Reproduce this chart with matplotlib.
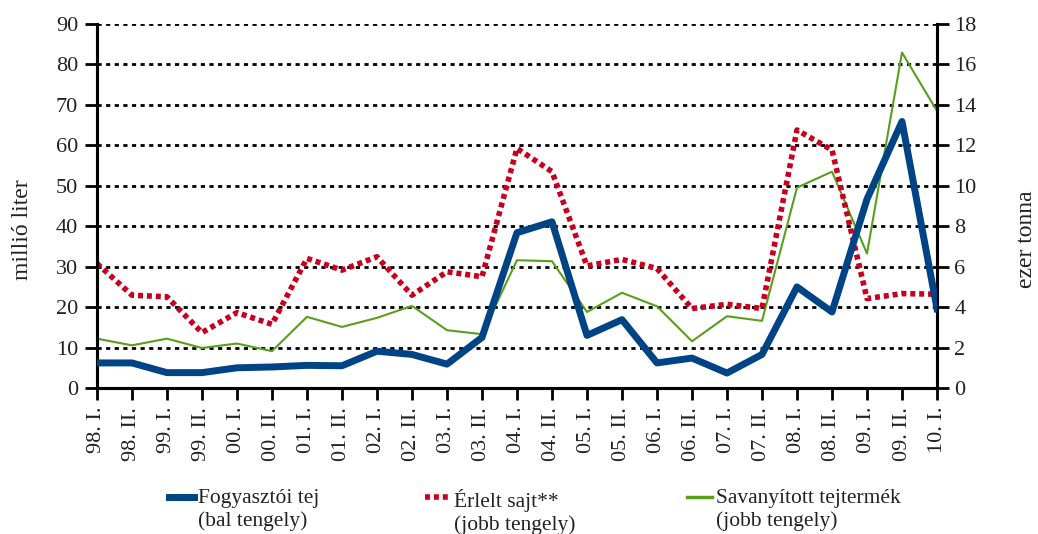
import matplotlib.pyplot as plt
from matplotlib.lines import Line2D

periods = ["98. I.", "98. II.", "99. I.", "99. II.", "00. I.", "00. II.", "01. I.", "01. II.",
           "02. I.", "02. II.", "03. I.", "03. II.", "04. I.", "04. II.", "05. I.", "05. II.",
           "06. I.", "06. II.", "07. I.", "07. II.", "08. I.", "08. II.", "09. I.", "09. II.", "10. I."]

# left axis (millió liter)
milk = [6.2, 6.2, 3.8, 3.8, 5.0, 5.2, 5.6, 5.5, 9.1, 8.3, 5.9, 12.5,
        38.4, 41.1, 13.0, 16.9, 6.2, 7.4, 3.7, 8.3, 25.0, 18.8, 46.7, 65.9, 19.6]
# right axis (ezer tonna)
cheese = [6.16, 4.59, 4.51, 2.74, 3.73, 3.15, 6.41, 5.83, 6.49, 4.59, 5.75, 5.5,
          11.85, 10.7, 6.04, 6.36, 5.91, 3.93, 4.14, 3.93, 12.76, 11.77, 4.42, 4.67, 4.64]
sour = [2.44, 2.11, 2.44, 1.98, 2.2, 1.82, 3.52, 3.02, 3.47, 4.06, 2.86, 2.66,
        6.32, 6.27, 3.76, 4.71, 4.04, 2.31, 3.55, 3.32, 9.91, 10.7, 6.65, 16.59, 13.7]

labels = ["Fogyasztói tej\n(bal tengely)", "Érlelt sajt**\n(jobb tengely)",
          "Savanyított tejtermék\n(jobb tengely)"]

blue = "#004485"
red = "#C8001E"
green = "#5A9E1E"
tc = "#222222"
dotted = (0, (0.9, 0.7))

plt.rcParams["font.family"] = ["Liberation Serif", "DejaVu Serif"]
plt.rcParams["font.size"] = 16

fig = plt.figure(figsize=(10.38, 5.34), dpi=100)
ax = fig.add_axes([0.0934, 0.2734, 0.8093, 0.6816])
ax2 = ax.twinx()
# blue (left axis) on top of the right-axis series
ax.set_zorder(ax2.get_zorder() + 1)
ax.patch.set_visible(False)

x = list(range(len(periods)))

ax.set_xlim(0, len(periods) - 1)
ax.set_ylim(0, 90)
ax2.set_ylim(0, 18)
ax.set_yticks(range(0, 91, 10))
ax2.set_yticks(range(0, 19, 2))
ax.set_xticks(x)
ax.set_xticklabels(periods, rotation=90, color=tc)

for y in range(2, 19, 2):
    ax2.axhline(y, color="black", lw=2.0, ls=(0, (1.5, 1.6)), zorder=1)

ax2.plot(x, sour, color=green, lw=1.5, zorder=3)
ax2.plot(x, cheese, color=red, lw=4, ls=dotted, zorder=4)
ax.plot(x, milk, color=blue, lw=5, zorder=5)

for a in (ax, ax2):
    a.spines["top"].set_visible(False)
    for s in ("left", "right", "bottom"):
        a.spines[s].set_linewidth(2.2)
    a.tick_params(axis="both", length=8.5, width=2, color="black", labelcolor=tc, labelsize=16)
ax.tick_params(axis="y", pad=5)
ax2.tick_params(axis="y", pad=4)
ax.tick_params(axis="x", pad=5)

ax.set_ylabel("millió liter", color=tc, fontsize=17)
ax.yaxis.set_label_coords(-0.076, 0.435)
ax2.set_ylabel("ezer tonna", color=tc, fontsize=17)
ax2.yaxis.set_label_coords(1.094, 0.41)

# legend, drawn by hand so the key sits on the first text line
handles = [dict(color=blue, lw=5), dict(color=red, lw=4, ls=dotted), dict(color=green, lw=2.5)]
starts = [169, 425, 687]
W, H = 1038, 534
for x0, kw, lab in zip(starts, handles, labels):
    fig.add_artist(Line2D([x0 / W, (x0 + 25) / W], [1 - 497 / H] * 2, transform=fig.transFigure, **kw))
    fig.text((x0 + 29) / W, 1 - 489 / H, lab, ha="left", va="top", fontsize=15.5, color=tc,
             linespacing=1.2)

fig.savefig("out.png", dpi=100)
